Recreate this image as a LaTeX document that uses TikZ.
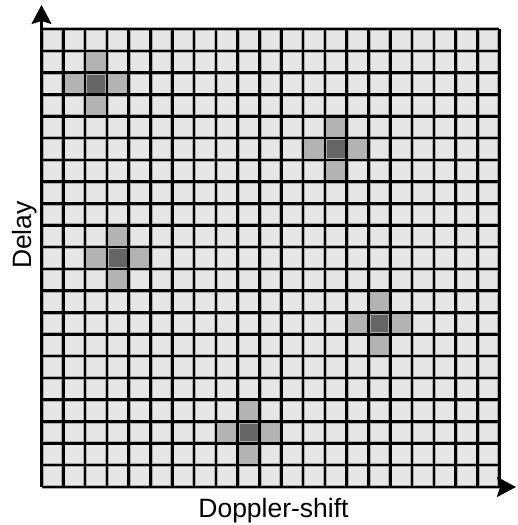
\documentclass[tikz,border=0pt]{standalone}
\usepackage{fontspec}
\setmainfont{Liberation Sans}
\usetikzlibrary{arrows.meta}
\definecolor{cellbg}{HTML}{E6E6E6}
\definecolor{cellmid}{HTML}{B3B3B3}
\definecolor{celldark}{HTML}{666666}
\definecolor{cellrim}{HTML}{AAAAAA}
\tikzset{
  axis/.style={line width=2.2pt, -{Stealth[length=19pt,width=20pt,inset=3pt]}},
  gridline/.style={line width=2.6pt, black},
  gridrim/.style={line width=4.0pt, cellrim},
  axlabel/.style={font=\fontsize{26.5}{30}\selectfont, inner sep=0pt}
}
\begin{document}
\begin{tikzpicture}[x=1pt,y=1pt]
\useasboundingbox (0,0) rectangle (517,525);
\def\cs{21.8}
\def\gx{41.5}
\def\gy{38}
% background cells
\fill[cellbg] (\gx,\gy) rectangle ({\gx+21*\cs},{\gy+21*\cs});
% highlighted targets (col,row from top)
\foreach \c/\r in {2/2,13/5,3/10,15/13,9/18}{
  \pgfmathsetmacro{\xl}{\gx+\c*\cs}
  \pgfmathsetmacro{\yb}{\gy+(20-\r)*\cs}
  \fill[celldark] (\xl,\yb) rectangle ++(\cs,\cs);
  \fill[cellmid] ({\xl-\cs},\yb) rectangle ++(\cs,\cs);
  \fill[cellmid] ({\xl+\cs},\yb) rectangle ++(\cs,\cs);
  \fill[cellmid] (\xl,{\yb+\cs}) rectangle ++(\cs,\cs);
  \fill[cellmid] (\xl,{\yb-\cs}) rectangle ++(\cs,\cs);
}
% grid lines
\foreach \i in {0,...,21}{
  \draw[gridrim] ({\gx+\i*\cs},\gy) -- ({\gx+\i*\cs},{\gy+21*\cs});
  \draw[gridrim] (\gx,{\gy+\i*\cs}) -- ({\gx+21*\cs},{\gy+\i*\cs});
}
\foreach \i in {0,...,21}{
  \draw[gridline] ({\gx+\i*\cs},\gy) -- ({\gx+\i*\cs},{\gy+21*\cs});
  \draw[gridline] (\gx,{\gy+\i*\cs}) -- ({\gx+21*\cs},{\gy+\i*\cs});
}
% axes
\coordinate (O) at (\gx,\gy);
\coordinate (ytip) at (\gx,520);
\coordinate (xtip) at (516,\gy);
\draw[axis] (O) -- (ytip);
\draw[axis] (O) -- (xtip);
% labels
\node[axlabel, anchor=base] (xlab) at (273.5,8) {Doppler-shift};
\node[axlabel, anchor=base, rotate=90] (ylab) at (31.5,290) {Delay};
\end{tikzpicture}
\end{document}
